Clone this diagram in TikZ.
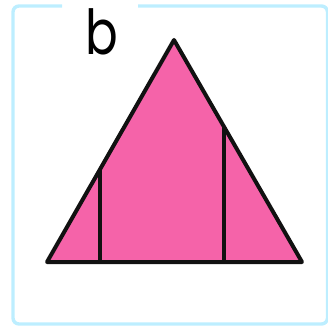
\documentclass[tikz,border=0pt]{standalone}
\usepackage{fontspec}
\setsansfont{Poppins}
\definecolor{Frame}{HTML}{BDEEFF}
\definecolor{Rose}{HTML}{F563A9}
\definecolor{Ink}{HTML}{111111}
\tikzset{
  frame/.style={draw=Frame,line width=3.4pt,rounded corners=6pt},
  tri/.style={fill=Rose,draw=Ink,line width=4pt,line join=round},
  cut/.style={draw=Ink,line width=3.8pt},
  tag/.style={font=\sffamily\fontsize{62}{62}\selectfont,inner sep=0pt,anchor=base,xscale=.78}
}
\begin{document}
\begin{tikzpicture}[x=1pt,y=-1pt]
    \useasboundingbox (0,0) rectangle (328,326);
    % frame, open at the top for the label
    \draw[frame] (138,6) -- (327.5,6) -- (327.5,324) -- (13,324) -- (13,6) -- (62,6);
    \node[tag] (lbl) at (102,55) {b};
    % triangle
    \coordinate (apex) at (174,40);
    \coordinate (bl) at (47,262);
    \coordinate (br) at (302,262);
    \path[tri] (bl) -- (apex) -- (br) -- cycle;
    \coordinate (l0) at (100,262);
    \coordinate (r0) at (224,262);
    \coordinate (l1) at (100,{262-222*53/127});
    \coordinate (r1) at (224,{40+222*50/128});
    \draw[cut] (l0) -- (l1);
    \draw[cut] (r0) -- (r1);
  \end{tikzpicture}
\end{document}
